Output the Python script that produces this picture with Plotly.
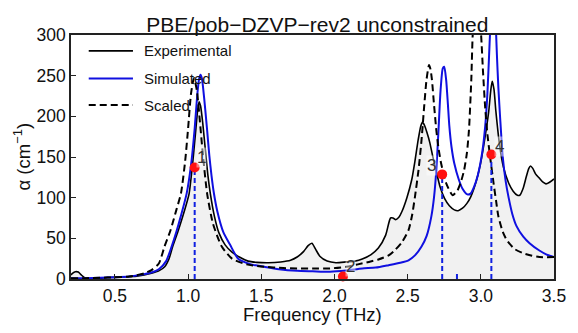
import plotly.graph_objects as go

# ---------------- data ----------------
exp_x = [0.20, 0.21, 0.23, 0.25, 0.27, 0.29, 0.32, 0.36, 0.40, 0.45, 0.50, 0.55, 0.60, 0.65,
         0.70, 0.75, 0.80, 0.84, 0.87, 0.895, 0.93, 0.96, 0.985, 1.007, 1.03, 1.05, 1.065,
         1.075, 1.085, 1.10, 1.12, 1.135, 1.152, 1.18, 1.21, 1.253, 1.30, 1.35, 1.41, 1.47,
         1.55, 1.633, 1.70, 1.745, 1.79, 1.82, 1.846, 1.87, 1.90, 1.95, 2.01, 2.08, 2.14,
         2.19, 2.25, 2.30, 2.35, 2.383, 2.40, 2.416, 2.44, 2.461, 2.495, 2.528, 2.55, 2.572,
         2.59, 2.602, 2.615, 2.632, 2.651, 2.67, 2.696, 2.722, 2.752, 2.785, 2.819, 2.845,
         2.875, 2.905, 2.931, 2.965, 2.998, 3.025, 3.054, 3.068, 3.078, 3.09, 3.103, 3.128,
         3.154, 3.19, 3.221, 3.25, 3.266, 3.29, 3.311, 3.328, 3.34, 3.355, 3.375, 3.40,
         3.425, 3.445, 3.47, 3.50]
exp_y = [5, 7, 9, 8.5, 5, 2, 0.5, 0.5, 1, 2, 2, 2.5, 3, 3.5,
         5, 7, 10, 15, 25, 40, 58, 75, 90, 105, 140, 178, 207,
         218, 213, 192, 155, 128, 105, 77, 57, 42, 33, 27, 22, 20.5,
         20, 21, 23, 27, 34, 41, 44, 37, 28, 22, 20, 21, 22,
         24.5, 30, 38, 54, 75, 75, 73, 76, 83, 100, 122, 145, 171,
         188, 193, 189, 180, 168, 152, 132, 113, 99, 90, 85, 84,
         87, 93, 101, 118, 142, 170, 206, 232, 243, 233, 206, 165,
         138, 118, 108, 103, 103, 112, 126, 136, 139, 136, 129, 124,
         119, 117, 119, 123]

sim_x = [0.20, 0.30, 0.40, 0.50, 0.60, 0.70, 0.75, 0.80, 0.85, 0.884, 0.92, 0.95, 0.99, 1.02,
         1.045, 1.062, 1.075, 1.085, 1.095, 1.11, 1.13, 1.145, 1.16, 1.175, 1.20, 1.24, 1.287,
         1.342, 1.43, 1.52, 1.62, 1.745, 1.85, 1.97, 2.08, 2.19, 2.282, 2.37, 2.45, 2.506,
         2.55, 2.595, 2.63, 2.662, 2.68, 2.696, 2.71, 2.725, 2.74, 2.75, 2.763, 2.775, 2.785,
         2.80, 2.819, 2.85, 2.875, 2.908, 2.93, 2.953, 2.98, 3.009, 3.03, 3.045, 3.06, 3.075,
         3.086, 3.098, 3.11, 3.12, 3.132, 3.15, 3.17, 3.19, 3.215, 3.244, 3.29, 3.333, 3.40,
         3.45, 3.50]
sim_y = [1, 1, 1.5, 2, 3, 6, 8, 12, 22, 38, 58, 77, 105, 140,
         185, 225, 246, 251, 246, 222, 183, 152, 127, 107, 83, 58, 42,
         25, 18, 15, 12, 10, 9.5, 9, 10.5, 13, 14, 17, 20, 23,
         29, 40, 53, 77, 100, 134, 180, 232, 259, 261, 245, 215, 188,
         162, 142, 122, 111, 104, 105, 113, 128, 155, 188, 228, 290, 345,
         360, 330, 275, 235, 198, 150, 120, 100, 80, 65, 52, 44, 35,
         30, 27]

scl_x = [0.20, 0.30, 0.40, 0.50, 0.60, 0.70, 0.75, 0.80, 0.839, 0.88, 0.92, 0.951, 0.98, 1.00,
         1.02, 1.04, 1.06, 1.08, 1.10, 1.13, 1.17, 1.23, 1.30, 1.40, 1.52, 1.65, 1.745, 1.85,
         1.97, 2.08, 2.16, 2.235, 2.30, 2.37, 2.416, 2.46, 2.506, 2.53, 2.55, 2.575, 2.595,
         2.612, 2.629, 2.646, 2.656, 2.666, 2.68, 2.696, 2.71, 2.729, 2.763, 2.807, 2.841,
         2.865, 2.886, 2.905, 2.919, 2.935, 2.944, 2.958, 2.972, 2.988, 3.002, 3.015, 3.03,
         3.045, 3.065, 3.087, 3.105, 3.12, 3.15, 3.177, 3.23, 3.29, 3.35, 3.40, 3.50]
scl_y = [1, 1, 1.5, 2, 3, 7, 11, 19, 40, 60, 85, 105, 145, 185,
         228, 247, 232, 195, 155, 105, 68, 40, 25, 18, 15, 13.5, 13, 13,
         13, 15, 18, 21, 24, 29, 36, 45, 60, 78, 101, 135, 171,
         210, 245, 263, 258, 245, 215, 183, 162, 142, 118, 103, 109,
         120, 134, 155, 183, 245, 298, 335, 345, 330, 300, 255, 210,
         178, 148, 118, 95, 77, 58, 48, 37, 31.6, 28.5, 27, 27]

# modes (blue dashed drop lines and red dots)
mode_x = [1.045, 2.058, 2.736, 2.837, 3.072]
mode_y = [137, 3, 128.6, 8, 153]
dot_x = [1.045, 2.058, 2.736, 3.072]
dot_y = [137, 3, 128.6, 153]
lab_text = ["1", "2", "3", "4"]
lab_x = [1.094, 2.107, 2.666, 3.128]
lab_y = [149, 15, 139, 163]

legend_names = ["Experimental", "Simulated", "Scaled"]
x_ticks = [0.5, 1.0, 1.5, 2.0, 2.5, 3.0, 3.5]
y_ticks = [0, 50, 100, 150, 200, 250, 300]

FONT = "Liberation Sans, Arial, sans-serif"

fig = go.Figure()

# experimental (filled)
fig.add_trace(go.Scatter(x=exp_x, y=exp_y, mode="lines", fill="tozeroy",
                         fillcolor="rgb(241,241,241)",
                         line=dict(color="black", width=1.6, shape="spline", smoothing=0.6),
                         showlegend=False, hoverinfo="skip"))
# simulated
fig.add_trace(go.Scatter(x=sim_x, y=sim_y, mode="lines",
                         line=dict(color="#1010e0", width=2, shape="spline", smoothing=0.6),
                         showlegend=False, hoverinfo="skip"))
# scaled
fig.add_trace(go.Scatter(x=scl_x, y=scl_y, mode="lines",
                         line=dict(color="black", width=2, dash="7px,4px", shape="spline", smoothing=0.6),
                         showlegend=False, hoverinfo="skip"))

# drop lines from modes
vx, vy = [], []
for mx, my in zip(mode_x, mode_y):
    vx += [mx, mx, None]
    vy += [0, my, None]
fig.add_trace(go.Scatter(x=vx, y=vy, mode="lines",
                         line=dict(color="#1020e0", width=2, dash="5px,3px"),
                         showlegend=False, hoverinfo="skip", cliponaxis=False))
# red dots
fig.add_trace(go.Scatter(x=dot_x, y=dot_y, mode="markers",
                         marker=dict(color="#ff1010", size=10, line=dict(width=0)),
                         showlegend=False, hoverinfo="skip", cliponaxis=False))

# number labels
for t, lx, ly in zip(lab_text, lab_x, lab_y):
    fig.add_annotation(x=lx, y=ly, text=t, showarrow=False,
                       font=dict(family=FONT, size=17, color="#333"),
                       bgcolor="rgba(255,255,255,0.45)", borderpad=0)

# manual legend
leg_y = [0.935, 0.822, 0.713]
leg_style = [dict(color="black", width=1.6), dict(color="#1010e0", width=2),
             dict(color="black", width=2, dash="7px,4px")]
for name, ly, st in zip(legend_names, leg_y, leg_style):
    fig.add_shape(type="line", xref="paper", yref="paper", x0=0.0367, x1=0.1283,
                  y0=ly, y1=ly, line=st)
    fig.add_annotation(xref="paper", yref="paper", x=0.1466, y=ly, text=name,
                       showarrow=False, xanchor="left", yanchor="middle",
                       font=dict(family=FONT, size=15, color="#111"))

# axis titles as annotations
fig.add_annotation(xref="paper", yref="paper", x=0.5, y=-0.1475, text="Frequency (THz)",
                   showarrow=False, xanchor="center", yanchor="middle",
                   font=dict(family=FONT, size=18.5, color="#111"))
fig.add_annotation(xref="paper", yref="paper", x=-0.1004, y=0.5, text="α (cm<sup>−1</sup>)",
                   showarrow=False, xanchor="center", yanchor="middle", textangle=-90,
                   font=dict(family=FONT, size=18.5, color="#111"))

fig.update_layout(
    width=578, height=333,
    margin=dict(l=71, r=16, t=35, b=54),
    paper_bgcolor="white", plot_bgcolor="white",
    title=dict(text="PBE/pob−DZVP−rev2 unconstrained", x=0.549, xanchor="center",
               y=0.925, yanchor="middle",
               font=dict(family=FONT, size=21, color="#111")),
    showlegend=False,
)
fig.update_xaxes(range=[0.2, 3.5], tickvals=x_ticks, ticktext=[f"{v:.1f}" for v in x_ticks],
                 ticks="inside", ticklen=5, tickwidth=1.2, tickcolor="#222",
                 showline=True, linecolor="#222", linewidth=1.5, mirror=True,
                 showgrid=False, zeroline=False,
                 tickfont=dict(family=FONT, size=17.5, color="#111"))
fig.update_yaxes(range=[0, 300], tickvals=y_ticks,
                 ticks="inside", ticklen=5, tickwidth=1.2, tickcolor="#222",
                 showline=True, linecolor="#222", linewidth=1.5, mirror=True,
                 showgrid=False, zeroline=False,
                 tickfont=dict(family=FONT, size=17.5, color="#111"))

fig.write_html("out.html")
